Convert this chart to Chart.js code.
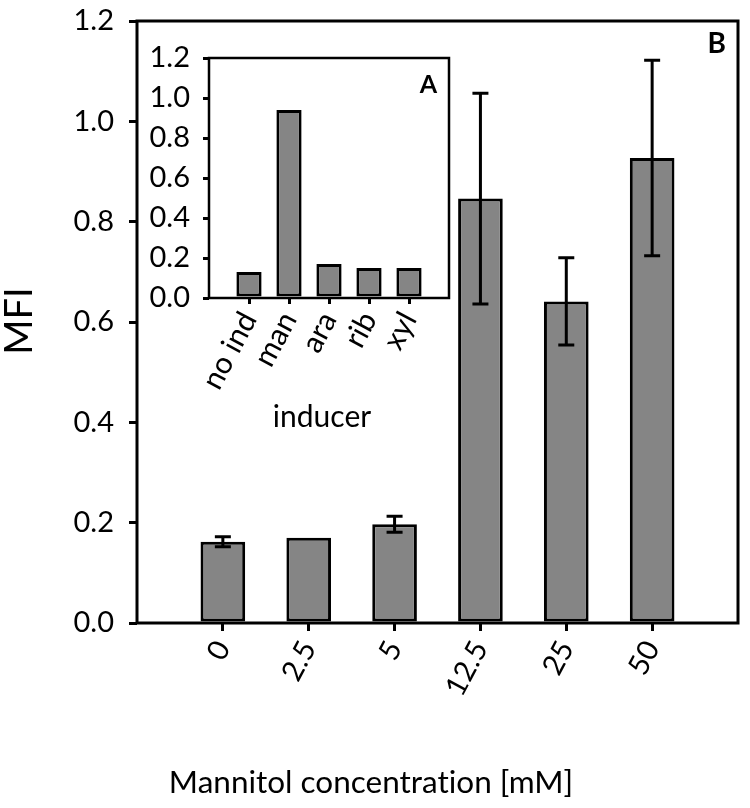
<!DOCTYPE html>
<html>
<head>
<meta charset="utf-8">
<script src="https://cdn.jsdelivr.net/npm/chart.js@4.4.0/dist/chart.umd.min.js"></script>
<style>
  body { margin: 0; background: #fff; }
  #wrap { position: relative; width: 750px; height: 808px; }
  #main { position: absolute; left: 0; top: 0; }
  #inset { position: absolute; left: 140px; top: 40px; }
</style>
</head>
<body>
<div id="wrap">
  <canvas id="main" width="750" height="808"></canvas>
  <canvas id="inset" width="320" height="400"></canvas>
</div>
<script>
// main panel (B): mannitol concentration series
const mannitolLabels = ['0', '2.5', '5', '12.5', '25', '50'];
const mannitolMFI = [0.162, 0.170, 0.197, 0.846, 0.641, 0.927];
const mannitolErr = [0.010, 0, 0.016, 0.210, 0.087, 0.195];

// inset panel (A): inducer series
const inducerLabels = ['no ind', 'man', 'ara', 'rib', 'xyl'];
const inducerMFI = [0.13, 0.94, 0.17, 0.15, 0.15];

const yTickLabels = ['0.0', '0.2', '0.4', '0.6', '0.8', '1.0', '1.2'];

const fontName = 'Lato';
const barFill = '#858585';

// pad categories so the bars sit one slot in from each edge
function pad(arr, v) { return [v].concat(arr, [v]); }

function edgeTick(ctx) {
    const n = ctx.scale.ticks.length;
    return (ctx.index === 0 || ctx.index === n - 1) ? 'rgba(0,0,0,0)' : '#000';
}

// keep the plot box where it is in the figure, no auto padding for labels
function noPad(scale) {
    scale.paddingTop = 0; scale.paddingBottom = 0;
    scale.paddingLeft = 0; scale.paddingRight = 0;
}

const errorBars = {
    id: 'errorBars',
    afterDatasetsDraw(chart) {
        const ctx = chart.ctx;
        const meta = chart.getDatasetMeta(0);
        const y = chart.scales.y;
        ctx.save();
        ctx.strokeStyle = '#000';
        ctx.lineWidth = 3;
        mannitolMFI.forEach((v, i) => {
            const e = mannitolErr[i];
            if (!e) return;
            const bar = meta.data[i + 1];
            const top = y.getPixelForValue(v + e);
            const bot = y.getPixelForValue(v - e);
            ctx.beginPath();
            ctx.moveTo(bar.x, top); ctx.lineTo(bar.x, bot);
            ctx.moveTo(bar.x - 8, top); ctx.lineTo(bar.x + 8, top);
            ctx.moveTo(bar.x - 8, bot); ctx.lineTo(bar.x + 8, bot);
            ctx.stroke();
        });
        ctx.restore();
    }
};

const frameText = {
    id: 'frameText',
    afterDraw(chart, args, opts) {
        const ctx = chart.ctx;
        const a = chart.chartArea;
        ctx.save();
        ctx.strokeStyle = '#000';
        ctx.lineWidth = opts.lineWidth;
        ctx.strokeRect(a.left, a.top, a.right - a.left, a.bottom - a.top);
        ctx.fillStyle = '#000';
        ctx.textBaseline = 'alphabetic';
        ctx.textRendering = 'optimizeSpeed'; // no "ti" ligature
        ctx.font = 'bold ' + opts.letterSize + 'px ' + fontName;
        ctx.textAlign = 'right';
        ctx.fillText(opts.letter, opts.letterX, opts.letterY);
        ctx.font = opts.titleSize + 'px ' + fontName;
        ctx.textAlign = 'center';
        ctx.fillText(opts.xTitle, opts.xTitleX, opts.xTitleY);
        if (opts.yTitle) {
            ctx.font = opts.yTitleSize + 'px ' + fontName;
            ctx.translate(opts.yTitleX, opts.yTitleY);
            ctx.rotate(-Math.PI / 2);
            ctx.textBaseline = 'middle';
            ctx.fillText(opts.yTitle, 0, 0);
        }
        ctx.restore();
    }
};

new Chart(document.getElementById('main'), {
    type: 'bar',
    data: {
        labels: pad(mannitolLabels, ''),
        datasets: [{
            data: pad(mannitolMFI, null),
            backgroundColor: barFill,
            borderColor: '#000',
            borderWidth: 3,
            borderSkipped: false,
            categoryPercentage: 0.52,
            barPercentage: 1
        }]
    },
    options: {
        responsive: false,
        animation: false,
        layout: { padding: { left: 0, top: 21, right: 12, bottom: 0 } },
        plugins: {
            legend: { display: false },
            tooltip: { enabled: false },
            frameText: {
                lineWidth: 3,
                letter: 'B', letterSize: 28, letterX: 726, letterY: 53,
                xTitle: 'Mannitol concentration [mM]', titleSize: 31.5, xTitleX: 371, xTitleY: 793,
                yTitle: 'MFI', yTitleSize: 38, yTitleX: 20, yTitleY: 321
            }
        },
        scales: {
            x: {
                offset: false,
                grid: { offset: false, drawOnChartArea: false, tickLength: 8, tickWidth: 3, lineWidth: 3, tickColor: edgeTick },
                border: { display: false },
                ticks: {
                    autoSkip: false, minRotation: 62, maxRotation: 62, padding: 4,
                    color: '#000', font: { family: fontName, size: 29 }
                },
                afterFit(scale) { scale.height = 185; noPad(scale); }
            },
            y: {
                min: 0, max: 1.2,
                grid: { drawOnChartArea: false, tickLength: 8, tickWidth: 3, lineWidth: 3, tickColor: '#000' },
                border: { display: false },
                ticks: {
                    stepSize: 0.2, padding: 15, color: '#000', font: { family: fontName, size: 29 },
                    callback: (v, i) => yTickLabels[i]
                },
                afterFit(scale) { scale.width = 137; noPad(scale); }
            }
        }
    },
    plugins: [errorBars, frameText]
});

new Chart(document.getElementById('inset'), {
    type: 'bar',
    data: {
        labels: pad(inducerLabels, ''),
        datasets: [{
            data: pad(inducerMFI, null),
            backgroundColor: barFill,
            borderColor: '#000',
            borderWidth: 3,
            borderSkipped: false,
            categoryPercentage: 0.63,
            barPercentage: 1
        }]
    },
    options: {
        responsive: false,
        animation: false,
        layout: { padding: { left: 0, top: 18, right: 11, bottom: 0 } },
        plugins: {
            legend: { display: false },
            tooltip: { enabled: false },
            frameText: {
                lineWidth: 2.5,
                letter: 'A', letterSize: 25, letterX: 297, letterY: 53,
                xTitle: 'inducer', titleSize: 30, xTitleX: 182, xTitleY: 387
            }
        },
        scales: {
            x: {
                offset: false,
                grid: { offset: false, drawOnChartArea: false, tickLength: 6, tickWidth: 3, lineWidth: 3, tickColor: edgeTick },
                border: { display: false },
                ticks: {
                    autoSkip: false, minRotation: 62, maxRotation: 62, padding: 2,
                    color: '#000', font: { family: fontName, size: 30 }
                },
                afterFit(scale) { scale.height = 142; noPad(scale); }
            },
            y: {
                min: 0, max: 1.2,
                grid: { drawOnChartArea: false, tickLength: 6, tickWidth: 3, lineWidth: 3, tickColor: '#000' },
                border: { display: false },
                ticks: {
                    stepSize: 0.2, padding: 13, color: '#000', font: { family: fontName, size: 29 },
                    callback: (v, i) => yTickLabels[i]
                },
                afterFit(scale) { scale.width = 69; noPad(scale); }
            }
        }
    },
    plugins: [frameText]
});
</script>
</body>
</html>
